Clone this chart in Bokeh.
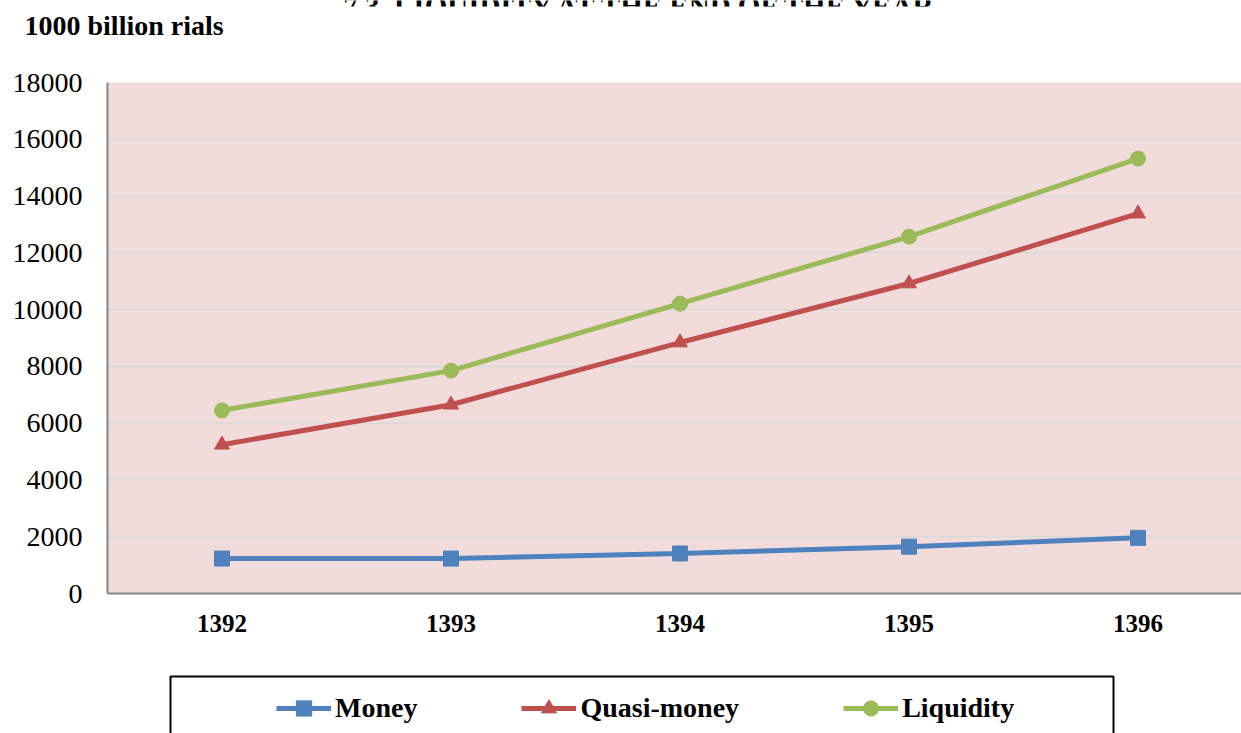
from bokeh.plotting import figure
from bokeh.models import Legend, LegendItem, FixedTicker, Range1d, Label, Title, BoxAnnotation
from bokeh.layouts import column
from bokeh.embed import file_html
from bokeh.resources import INLINE

years = [1392, 1393, 1394, 1395, 1396]
money = [1230, 1230, 1410, 1650, 1960]
quasi_money = [5240, 6650, 8840, 10920, 13380]
liquidity = [6450, 7850, 10210, 12570, 15320]
y_ticks = list(range(0, 18001, 2000))

series_names = ["Money", "Quasi-money", "Liquidity"]
colors = ["#4F81BD", "#C0504D", "#9BBB59"]
markers = ["square", "triangle", "circle"]

chart_title = "7.3. LIQUIDITY AT THE END OF THE YEAR"
unit_text = "1000 billion rials"

FONT = "Liberation Serif"
W = 1241
LEFT = 107  # left edge of the plotting area (page px); all stacked figures share it

# ---- top strip: chart title (cut off at the page top) + unit label ----
TOP_H = 50
top = figure(width=W, height=TOP_H, output_backend="svg", toolbar_location=None,
             x_range=Range1d(LEFT, W), y_range=Range1d(6, 0),
             x_axis_type=None, y_axis_type=None,
             min_border_left=0, min_border_right=0, min_border_top=0, min_border_bottom=44)
top.outline_line_color = None
top.grid.visible = False
top.add_layout(Label(x=641, y=5, text=chart_title, text_font=FONT, text_font_style="bold",
                     text_color="black", text_font_size="29px",
                     text_align="center", text_baseline="alphabetic"))
top.add_layout(Title(text=unit_text, align="left", offset=24 - LEFT, standoff=6,
                     vertical_align="top", text_font=FONT, text_font_style="bold",
                     text_color="black", text_font_size="28px"), "below")

# ---- main chart ----
MAIN_H = 660 - TOP_H
p = figure(width=W, height=MAIN_H, output_backend="svg", toolbar_location=None,
           x_range=Range1d(1391.5, 1396.452), y_range=Range1d(0, 18000),
           min_border_left=LEFT, min_border_right=0, min_border_top=82 - TOP_H,
           min_border_bottom=MAIN_H - (82 - TOP_H) - 511)
p.background_fill_color = "#F2DCDB"
p.border_fill_color = "white"
p.outline_line_color = None

p.xgrid.grid_line_color = None
p.ygrid.grid_line_color = "#D9D9D9"
p.ygrid.grid_line_width = 2
p.ygrid.ticker = FixedTicker(ticks=y_ticks)

p.yaxis.ticker = FixedTicker(ticks=y_ticks)
p.xaxis.ticker = FixedTicker(ticks=years)
for ax in (p.xaxis, p.yaxis):
    ax.axis_line_color = "#868686"
    ax.axis_line_width = 2
    ax.major_tick_line_color = None
    ax.minor_tick_line_color = None
    ax.major_tick_out = 0
    ax.major_tick_in = 0
    ax.major_label_text_font = FONT
    ax.major_label_text_color = "black"
p.yaxis.major_label_text_font_size = "28px"
p.yaxis.major_label_standoff = 25
p.xaxis.major_label_text_font_size = "25px"
p.xaxis.major_label_text_font_style = "bold"
p.xaxis.major_label_standoff = 21

for name, vals, c, m in zip(series_names, [money, quasi_money, liquidity], colors, markers):
    p.line(years, vals, line_color=c, line_width=5)
    p.scatter(years, vals, marker=m, size=15, fill_color=c, line_color=c)

# ---- legend strip (box cut off by the page bottom) ----
LEG_H = 733 - 660
leg = figure(width=W, height=LEG_H, output_backend="svg", toolbar_location=None,
             x_range=Range1d(LEFT, W), y_range=Range1d(733, 660),
             x_axis_type=None, y_axis_type=None,
             min_border_left=LEFT, min_border_right=0, min_border_top=0, min_border_bottom=0)
leg.grid.visible = False
leg.outline_line_color = None
leg.background_fill_color = "white"
leg.add_layout(BoxAnnotation(left=170, right=1113, top=676, bottom=760,
                             fill_color="white", fill_alpha=1,
                             line_color="black", line_alpha=1, line_width=2, level="underlay"))

items = []
for name, vals, c, m in zip(series_names, [money, quasi_money, liquidity], colors, markers):
    # same series, outside this strip's view: only their legend glyphs show
    lr = leg.line(years, vals, line_color=c, line_width=5)
    sr = leg.scatter(years, vals, marker=m, fill_color=c, line_color=c)
    items.append(LegendItem(label=name, renderers=[lr, sr]))

legend = Legend(items=items, orientation="horizontal", location=(276 - LEFT, 6),
                padding=0, spacing=104, glyph_width=55, glyph_height=38, label_height=38,
                label_standoff=4, border_line_alpha=0, background_fill_alpha=0,
                label_text_font=FONT, label_text_font_style="bold", label_text_color="black",
                label_text_font_size="28px")
leg.add_layout(legend, "center")

layout = column(top, p, leg, spacing=0)
open("out.html", "w").write(file_html(layout, INLINE))
